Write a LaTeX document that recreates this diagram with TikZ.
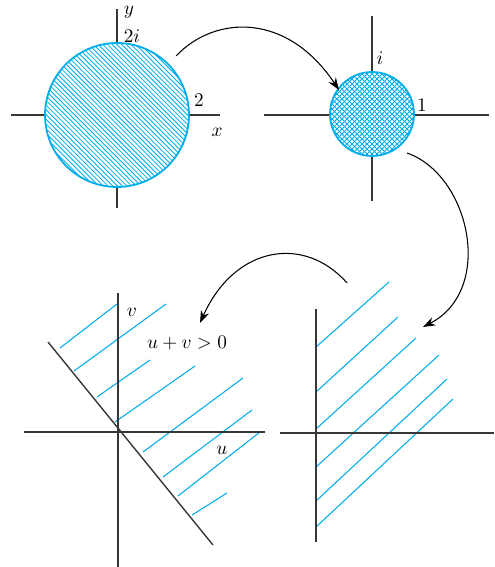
\documentclass[tikz,border=0pt]{standalone}
\usepackage{amsmath}
\usepackage{xcolor}
\usepackage{tikz}
\usetikzlibrary{arrows.meta}
\definecolor{hatchblue}{RGB}{0,172,236}
\definecolor{axisgray}{RGB}{55,55,55}
\begin{document}
\begin{tikzpicture}[
  x=0.02cm, y=-0.02cm,
  every node/.style={font=\fontsize{10.5}{12}\selectfont, inner sep=0pt},
  ax/.style={draw=axisgray, line width=0.8pt},
  rim/.style={draw=hatchblue, line width=1pt},
  hatch/.style={draw=hatchblue, line width=0.45pt},
  strip/.style={draw=hatchblue, line width=0.6pt},
  a/.style={-{Stealth[length=7pt,width=5pt]}, line width=0.6pt}
]
\useasboundingbox (0,0) rectangle (494,567);

% disc |z|<2
\draw[ax] (11,115) -- (220,115);
\draw[ax] (117,9) -- (117,208);
\fill[white] (117,115) circle (72);
\begin{scope}
  \clip (117,115) circle (72);
  \foreach \t in {-34,...,34}
    \draw[hatch] ({117+4.7*\t-110},5) -- ++(220,220);
\end{scope}
\draw[rim] (117,115) circle (72);
\node (ylab) at (129,12) {$y$};
\node (twoi) at (132,36) {$2i$};
\node (two) at (199,100) {$2$};
\node (xlab) at (217,132) {$x$};

% disc |w|<1
\draw[ax] (264,115) -- (489,115);
\draw[ax] (372,16) -- (372,201);
\fill[white] (372,114) circle (42);
\begin{scope}
  \clip (372,114) circle (42);
  \foreach \t in {-22,...,22} {
    \draw[hatch] ({372+5*\t-60},54) -- ++(120,120);
    \draw[hatch] ({372+5*\t+60},54) -- ++(-120,120);
  }
\end{scope}
\draw[rim] (372,114) circle (42);
\node (ilab) at (380,58) {$i$};
\node (one) at (422,105) {$1$};

% half plane u+v>0
\foreach \xa/\ya/\xb/\yb in {60/348/117/304, 74/371/166/304, 97/397/150/360,
                             115/422/195/366, 143/452/243/378, 163/477/252/410,
                             178/496/260/432, 192/515/227/493}
  \draw[strip] (\xa,\ya) -- (\xb,\yb);
\draw[ax] (24,432) -- (265,432);
\draw[ax] (118,293) -- (118,567);
\draw[ax] (48,342) -- (213,545);
\node (vlab) at (132,312) {$v$};
\node (ineq) at (187,343) {$u+v>0$};
\node (ulab) at (222,450) {$u$};

% right half plane
\foreach \yl/\xr/\yr in {347/389/282, 392/398/317, 429/416/338,
                         467/439/355, 501/447/379, 527/453/399}
  \draw[strip] (316,\yl) -- (\xr,\yr);
\draw[ax] (280,433) -- (494,433);
\draw[ax] (316,309) -- (316,542);

% mapping arrows
\coordinate (a1s) at (176,56);
\coordinate (a1e) at (339,90);
\coordinate (a2s) at (407,153);
\coordinate (a2e) at (423,327);
\coordinate (a3s) at (347,283);
\coordinate (a3e) at (200,323);
\draw[a] (a1s) .. controls (215,15) and (287,12) .. (a1e);
\draw[a] (a2s) .. controls (470,175) and (495,290) .. (a2e);
\draw[a] (a3s) .. controls (305,235) and (235,245) .. (a3e);
\end{tikzpicture}
\end{document}
